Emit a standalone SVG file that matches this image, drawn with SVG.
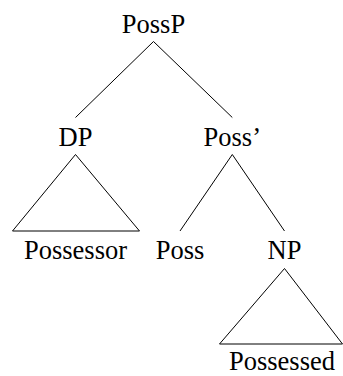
<svg xmlns="http://www.w3.org/2000/svg" width="343" height="376" viewBox="0 0 343 376">
<style>
text{font-family:"Liberation Serif","DejaVu Serif",serif;font-size:26.5px;fill:#000;text-anchor:middle}
.e{stroke:#000;stroke-width:1;fill:none}
</style>
<rect width="343" height="376" fill="#fff"/>
<g id="connectors">
<line class="e" x1="153.5" y1="41.5" x2="75.5" y2="117.5"/>
<line class="e" x1="153.5" y1="41.5" x2="232.3" y2="117.5"/>
<polygon class="e" points="75.5,154.5 12.5,231 139.5,231"/>
<line class="e" x1="232.3" y1="154.5" x2="180" y2="231"/>
<line class="e" x1="232.3" y1="154.5" x2="284.5" y2="231"/>
<polygon class="e" points="284.5,268.5 219.5,344 342.5,344"/>
</g>
<g id="PossP"><text x="153.5" y="33">PossP</text></g>
<g id="DP"><text x="75.5" y="145.5">DP</text></g>
<g id="PossBar"><text x="232.3" y="145.5">Poss’</text></g>
<g id="Possessor"><text x="75.5" y="259">Possessor</text></g>
<g id="Poss"><text x="180" y="259">Poss</text></g>
<g id="NP"><text x="284.5" y="259">NP</text></g>
<g id="Possessed"><text x="282" y="369.5" font-size="26">Possessed</text></g>
</svg>
